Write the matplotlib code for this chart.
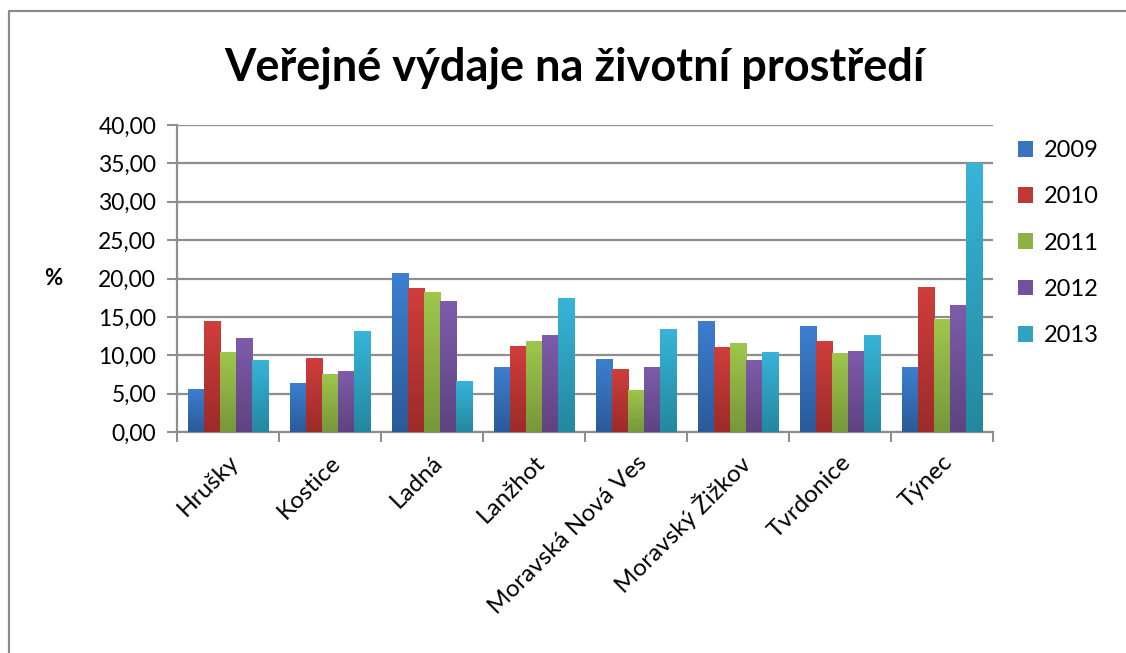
import matplotlib
matplotlib.use("Agg")
import matplotlib.pyplot as plt
import numpy as np
from matplotlib.colors import LinearSegmentedColormap
from matplotlib.patches import Patch
from matplotlib.lines import Line2D

categories = ["Hrušky", "Kostice", "Ladná", "Lanžhot", "Moravská Nová Ves",
              "Moravský Žižkov", "Tvrdonice", "Týnec"]
years = ["2009", "2010", "2011", "2012", "2013"]
v2009 = [5.62, 6.41, 20.78, 8.50, 9.54, 14.51, 13.86, 8.50]
v2010 = [14.51, 9.67, 18.82, 11.24, 8.24, 11.11, 11.90, 18.95]
v2011 = [10.46, 7.58, 18.30, 11.90, 5.49, 11.63, 10.33, 14.77]
v2012 = [12.29, 7.97, 17.12, 12.68, 8.50, 9.41, 10.59, 16.60]
v2013 = [9.41, 13.20, 6.67, 17.52, 13.46, 10.46, 12.68, 34.99]
series = [v2009, v2010, v2011, v2012, v2013]
yticks = [0, 5, 10, 15, 20, 25, 30, 35, 40]
title = "Veřejné výdaje na životní prostředí"

top_cols = ["#3D7FD1", "#D03E3B", "#9FC74B", "#7F5CAB", "#37B5D9"]
bot_cols = ["#2B5A98", "#9C2B2A", "#77973A", "#5E4380", "#24879F"]
mid_cols = ["#3A74C0", "#BE3836", "#8DB244", "#72529A", "#30A2C2"]

plt.rcParams['font.family'] = ['Lato', 'DejaVu Sans']

fig = plt.figure(figsize=(11.26, 6.53), dpi=100)
ax = fig.add_axes([177/1126, 1-432/653, (993-177)/1126, (432-125)/653])

n = len(series)
bw = 0.157
x = np.arange(len(categories))
grad = np.linspace(0, 1, 256).reshape(-1, 1)
for i, vals in enumerate(series):
    offs = (i - (n - 1) / 2) * bw
    bars = ax.bar(x + offs, vals, width=bw, color=mid_cols[i], zorder=3, linewidth=0)
    cmap = LinearSegmentedColormap.from_list(f"g{i}", [bot_cols[i], top_cols[i]])
    for b in bars:
        bx, by = b.get_x(), b.get_y()
        w, h = b.get_width(), b.get_height()
        im = ax.imshow(grad, extent=[bx, bx + w, by, by + h], origin='lower',
                       aspect='auto', cmap=cmap, zorder=4)
        im.set_clip_path(b)

ax.set_xlim(-0.5, len(categories) - 0.5)
ax.set_ylim(0, 40)
ax.set_yticks(yticks)
ax.set_yticklabels([f"{t:.2f}".replace(".", ",") for t in yticks], fontsize=16.5)
ax.grid(axis='y', color='#8e8e8e', lw=1.6, zorder=1)
ax.set_axisbelow(True)

ax.set_xticks(x)
ax.set_xticklabels(categories, rotation=45, ha='right', rotation_mode='anchor',
                   fontsize=17.5)
ax.tick_params(axis='x', length=0, pad=14)
ax.set_xticks(np.arange(-0.5, len(categories), 1), minor=True)
ax.tick_params(axis='x', which='minor', length=7, width=1.5, color='#8e8e8e')
ax.tick_params(axis='y', length=7, width=1.5, color='#8e8e8e', pad=8)

for s in ['top', 'right']:
    ax.spines[s].set_visible(False)
for s in ['left', 'bottom']:
    ax.spines[s].set_color('#8e8e8e')
    ax.spines[s].set_linewidth(1.6)

ax.set_ylabel("%", rotation=0, fontsize=16, fontweight='bold', labelpad=32, va='center')

fig.text(574/1126, 1 - 68/653, title, ha='center', va='center', fontsize=32.5, fontweight='bold')

handles = [Patch(facecolor=mid_cols[i], edgecolor='none') for i in range(n)]
fig.legend(handles, years, loc='upper left', bbox_to_anchor=(1018/1126, 1 - 140/653),
           frameon=False, fontsize=17, handlelength=0.65, handleheight=0.65,
           handletextpad=0.45, labelspacing=1.07, borderaxespad=0, borderpad=0)

fig.lines.append(Line2D([9/1126, 9/1126, 1.0], [0.0, 1 - 11/653, 1 - 11/653],
                        transform=fig.transFigure, color='#8a8a8a', lw=1.6))

fig.savefig("out.png", dpi=100)
